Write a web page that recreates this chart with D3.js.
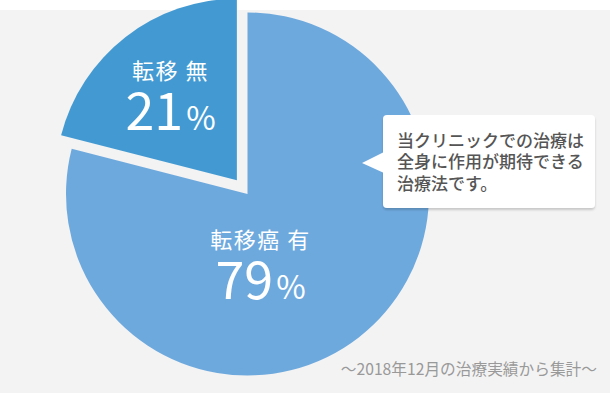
<!DOCTYPE html>
<html>
<head>
<meta charset="utf-8">
<script src="https://cdn.jsdelivr.net/npm/d3@7"></script>
<style>
  html, body { margin: 0; padding: 0; background: #fff; }
  svg { display: block; font-family: "Noto Sans CJK JP", "Noto Sans", sans-serif; }
</style>
</head>
<body>
<div id="chart"></div>
<script>
// pie data
const labels = ["転移癌 有", "転移 無"];
const values = [79, 21];
const colors = ["#6ea9de", "#439ad2"];
const noteLines = ["当クリニックでの治療は", "全身に作用が期待できる", "治療法です。"];
const footnote = "〜2018年12月の治療実績から集計〜";

const w = 610; // canvas width
const h = 393; // canvas height
const r = 181.5; // pie radius
const cx = 247.5, cy = 194; // pie centre
const explode = 17.3; // pull-out of the small slice

const svg = d3.select("#chart").append("svg").attr("width", w).attr("height", h);

const defs = svg.append("defs");
const shadow = defs.append("filter").attr("id", "shadow").attr("x", "-10%").attr("y", "-10%").attr("width", "120%").attr("height", "130%");
shadow.append("feDropShadow").attr("dx", 0).attr("dy", 2).attr("stdDeviation", 1.2).attr("flood-color", "#000").attr("flood-opacity", 0.18);

// grey panel under a thin white strip
svg.append("rect").attr("x", 0).attr("y", 10).attr("width", w).attr("height", h - 10).attr("fill", "#f3f3f3");

const data = labels.map((d, i) => ({ label: d, value: values[i], color: colors[i] }));
const pie = d3.pie().sort(null).value(d => d.value).startAngle(0).endAngle(2 * Math.PI);
const arc = d3.arc().innerRadius(0).outerRadius(r);
const arcs = pie(data);

const g = svg.append("g").attr("transform", `translate(${cx},${cy})`);

g.selectAll("path").data(arcs).enter().append("path")
    .attr("d", arc)
    .attr("fill", d => d.data.color)
    .attr("transform", (d, i) => {
        if (i === 0) return null;
        const mid = (d.startAngle + d.endAngle) / 2;
        return `translate(${Math.sin(mid) * explode},${-Math.cos(mid) * explode})`;
    });

// slice labels (layout offsets relative to pie centre)
const labelPos = [[13, 54], [-77, -115]];
const lab = g.selectAll("g.lab").data(arcs).enter().append("g").attr("class", "lab")
    .attr("transform", (d, i) => `translate(${labelPos[i][0]},${labelPos[i][1]})`);

lab.append("text")
    .attr("text-anchor", "middle")
    .attr("y", 0)
    .attr("fill", "#fff")
    .attr("font-size", 22)
    .attr("font-weight", 400)
    .attr("letter-spacing", 1.5)
    .text(d => d.data.label);

const pct = lab.append("text")
    .attr("text-anchor", "middle")
    .attr("y", 51)
    .attr("fill", "#fff")
    .attr("font-weight", 400);
pct.append("tspan").attr("font-size", 52).text(d => d.data.value);
pct.append("tspan").attr("font-size", 32).attr("dx", 3).text("%");

// callout box
const note = svg.append("g").attr("transform", "translate(383,115)");
note.append("rect").attr("width", 212).attr("height", 93).attr("rx", 4).attr("fill", "#fff").attr("filter", "url(#shadow)");
note.append("path").attr("d", "M1,37 L-21,48 L1,58 Z").attr("fill", "#fff");
note.selectAll("text").data(noteLines).enter().append("text")
    .attr("x", 14)
    .attr("y", (d, i) => 31.5 + i * 21.7)
    .attr("fill", "#555")
    .attr("font-size", 17)
    .attr("font-weight", 500)
    .text(d => d);

svg.append("text")
    .attr("x", 597).attr("y", 375)
    .attr("text-anchor", "end")
    .attr("fill", "#999")
    .attr("font-size", 15.7)
    .text(footnote);
</script>
</body>
</html>
